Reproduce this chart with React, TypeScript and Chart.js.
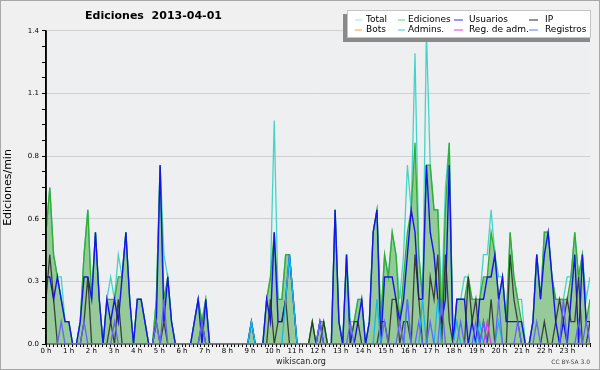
import React, { useEffect, useRef } from 'react';
import Chart from 'chart.js/auto';

const hourLabels = ['0 h','1 h','2 h','3 h','4 h','5 h','6 h','7 h','8 h','9 h','10 h','11 h','12 h','13 h','14 h','15 h','16 h','17 h','18 h','19 h','20 h','21 h','22 h','23 h'];
const yTickValues = [0, 0.28, 0.56, 0.84, 1.12, 1.4];
const yTickLabels = ['0.0', '0.3', '0.6', '0.8', '1.1', '1.4'];
const seriesNames = ['Total', 'Ediciones', 'Usuarios', 'IP', 'Bots', 'Admins.', 'Reg. de adm.', 'Registros'];

// edits per minute, 10-minute bins (144 per day)
const total = [
  0.5,0.7,0.4,0.3,0.3,0.1,0.1,0,0,0.1,0.4,0.6,
  0.2,0.5,0.2,0,0.2,0.3,0.2,0.4,0.3,0.5,0.2,0,
  0.2,0.2,0.1,0,0,0.2,0.8,0.4,0.3,0.1,0,0,
  0,0,0,0.1,0.2,0.1,0.2,0,0,0,0,0,
  0,0,0,0,0,0,0.1,0,0,0,0.2,0.3,
  1.0,0.2,0.2,0.4,0.4,0.2,0,0,0,0,0.1,0,
  0.1,0.1,0,0,0.6,0.1,0,0.4,0.1,0.1,0.2,0.2,
  0,0.1,0.5,0.6,0.1,0.4,0.3,0.5,0.4,0.2,0.4,0.8,
  0.6,1.3,0.4,0.2,1.4,0.8,0.6,0.6,0.2,0.7,0.9,0,
  0.2,0.2,0.3,0.3,0.2,0.2,0.2,0.4,0.4,0.6,0.4,0.3,
  0.3,0.1,0.5,0.3,0.2,0.2,0,0,0.1,0.4,0.2,0.5,
  0.5,0.3,0.2,0.2,0.2,0.3,0.3,0.5,0.3,0.4,0.2,0.3,
];
const ediciones = [
  0.5,0.7,0.4,0.3,0.2,0.1,0.1,0,0,0.1,0.4,0.6,
  0.2,0.5,0.2,0,0.2,0.2,0.2,0.3,0.3,0.5,0.2,0,
  0.2,0.2,0.1,0,0,0.2,0.8,0.2,0.3,0.1,0,0,
  0,0,0,0.1,0.2,0.1,0.2,0,0,0,0,0,
  0,0,0,0,0,0,0.1,0,0,0,0.2,0.3,
  0.5,0.2,0.2,0.4,0.4,0.2,0,0,0,0,0.1,0,
  0.1,0.1,0,0,0.6,0.1,0,0.4,0,0.1,0.2,0.2,
  0,0.1,0.5,0.6,0.1,0.4,0.3,0.5,0.4,0.1,0.3,0.5,
  0.6,0.9,0.4,0.2,0.8,0.8,0.6,0.6,0.1,0.6,0.9,0,
  0.2,0.2,0.2,0.3,0.2,0.2,0.2,0.3,0.3,0.5,0.4,0.2,
  0.3,0.1,0.5,0.3,0.2,0.1,0,0,0.1,0.4,0.2,0.5,
  0.5,0.3,0.2,0.2,0.2,0.2,0.3,0.5,0.3,0.4,0.1,0.2,
];
const usuarios = [
  0.3,0.3,0.2,0.3,0.2,0.1,0.1,0,0,0.1,0.3,0.3,
  0.2,0.5,0.2,0,0.2,0.1,0.2,0.1,0.3,0.5,0.2,0,
  0.2,0.2,0.1,0,0,0.1,0.8,0.1,0.3,0.1,0,0,
  0,0,0,0.1,0.2,0,0.2,0,0,0,0,0,
  0,0,0,0,0,0,0.1,0,0,0,0.2,0.1,
  0.5,0.1,0.1,0.2,0.4,0.2,0,0,0,0,0,0,
  0.1,0,0,0,0.6,0.1,0,0.4,0,0,0.1,0.2,
  0,0.1,0.5,0.6,0,0.3,0.3,0.3,0.2,0.1,0.2,0.4,
  0.6,0.5,0.2,0.2,0.8,0.5,0.4,0.2,0.1,0.2,0.8,0,
  0.2,0.2,0.2,0,0.1,0,0.2,0.2,0.3,0.3,0.4,0.2,
  0.3,0.1,0.1,0.1,0.1,0.1,0,0,0.1,0.4,0.2,0.4,
  0.5,0.3,0.1,0,0.1,0,0.2,0.4,0,0.4,0.1,0.1,
];
const ip = [
  0.2,0.4,0.2,0,0,0,0,0,0,0,0.1,0.3,
  0,0,0,0,0,0.1,0,0.2,0,0,0,0,
  0,0,0,0,0,0.1,0,0.1,0,0,0,0,
  0,0,0,0,0,0.1,0,0,0,0,0,0,
  0,0,0,0,0,0,0,0,0,0,0,0.2,
  0,0.1,0.1,0.2,0,0,0,0,0,0,0.1,0,
  0,0.1,0,0,0,0,0,0,0,0.1,0.1,0,
  0,0,0,0,0.1,0.1,0,0.2,0.2,0,0.1,0.1,
  0,0.4,0.2,0,0,0.3,0.2,0.4,0,0.4,0.1,0,
  0,0,0,0.3,0.1,0.2,0,0.1,0,0.2,0,0,
  0,0,0.4,0.2,0.1,0,0,0,0,0,0,0.1,
  0,0,0.1,0.2,0.1,0.2,0.1,0.1,0.3,0,0,0.1,
];
const bots = [
  0,0,0,0,0,0,0,0,0,0,0,0,
  0,0,0,0,0,0,0,0,0,0,0,0,
  0,0,0,0,0,0,0,0,0,0,0,0,
  0,0,0,0,0,0,0,0,0,0,0,0,
  0,0,0,0,0,0,0,0,0,0,0,0,
  0,0,0,0,0,0,0,0,0,0,0,0,
  0,0,0,0,0,0,0,0,0,0,0,0,
  0,0,0,0,0,0,0,0,0,0,0,0,
  0,0,0,0,0,0,0,0,0,0,0,0,
  0,0,0,0,0,0,0,0,0,0,0,0,
  0,0,0,0,0,0,0,0,0,0,0,0,
  0,0,0,0,0,0,0,0,0,0,0,0,
];
const admins = [
  0,0,0,0,0,0,0,0,0,0,0,0,
  0,0,0,0,0,0,0,0,0,0,0,0,
  0,0,0,0,0,0,0,0,0,0,0,0,
  0,0,0,0,0,0,0,0,0,0,0,0,
  0,0,0,0,0,0,0.1,0,0,0,0,0,
  0,0,0,0.2,0.4,0.2,0,0,0,0,0,0,
  0,0,0,0,0,0,0,0,0,0,0,0,
  0,0,0,0.2,0,0,0,0,0,0,0,0.2,
  0,0,0,0.2,0,0,0,0.2,0,0,0,0,
  0.1,0,0,0,0,0,0.1,0,0,0,0,0.1,
  0,0,0,0,0,0,0,0,0,0,0,0,
  0,0,0,0,0,0,0,0,0,0,0,0,
];
const regAdm = [
  0,0,0,0,0,0,0,0,0,0,0,0,
  0,0,0,0,0,0,0,0,0,0,0,0,
  0,0,0,0,0,0,0,0,0,0,0,0,
  0,0,0,0,0,0,0,0,0,0,0,0,
  0,0,0,0,0,0,0,0,0,0,0,0,
  0,0,0,0,0,0,0,0,0,0,0,0,
  0,0,0,0,0,0,0,0,0,0,0,0,
  0,0,0,0,0,0,0,0,0,0,0,0,
  0,0,0,0,0,0,0,0,0,0,0,0,
  0,0,0,0,0,0,0,0,0.1,0,0,0,
  0,0,0,0,0,0,0,0,0,0,0,0,
  0,0,0,0,0,0,0,0,0,0,0,0,
];
const registros = [
  0,0,0,0,0.1,0,0,0,0,0,0.1,0,
  0,0,0,0,0,0,0.1,0,0,0,0,0,
  0,0,0,0,0,0.1,0,0.2,0,0,0,0,
  0,0,0,0,0,0.1,0,0,0,0,0,0,
  0,0,0,0,0,0,0,0,0,0,0,0,
  0,0,0,0,0,0,0,0,0,0,0,0,
  0.1,0,0,0,0,0,0,0,0.1,0,0,0,
  0,0,0,0,0,0.1,0,0,0,0.1,0,0.2,
  0,0,0.1,0,0,0.1,0,0,0.2,0,0,0,
  0,0.1,0,0,0,0.1,0,0.1,0,0,0,0.2,
  0,0,0,0,0.1,0,0,0,0,0.1,0,0,
  0,0,0,0,0.2,0,0,0,0.1,0,0.1,0,
];

const lineColors = [
  'rgb(70,212,200)', 'rgb(50,175,50)', 'rgb(20,20,235)', 'rgba(40,40,40,0.85)',
  'rgb(255,160,40)', 'rgb(20,185,230)', 'rgb(210,60,220)', 'rgb(100,100,250)',
];
const legendColors = [
  'rgb(145,230,222)', 'rgb(110,205,110)', 'rgb(50,50,250)', 'rgb(40,40,40)',
  'rgb(255,160,40)', 'rgb(50,205,225)', 'rgb(220,60,230)', 'rgb(110,110,250)',
];

const FONT = 'DejaVu Sans';

export default function App() {
  const ref = useRef<HTMLCanvasElement>(null);
  useEffect(() => {
    document.body.style.margin = '0';
    const canvas = ref.current!;
    const series = [total, ediciones, usuarios, ip, bots, admins, regAdm, registros];
    const pts = (arr: number[]) => arr.map((v, i) => ({ x: (i * 24) / (arr.length - 1), y: v }));
    const xTicks = Array.from({ length: 145 }, (_, k) => k / 6);
    const yTicks = Array.from({ length: 21 }, (_, k) => k * 0.07);

    const decor = {
      id: 'decor',
      beforeDraw(chart: any) {
        const { ctx, chartArea: a } = chart;
        ctx.save();
        ctx.fillStyle = '#f0f0f0';
        ctx.fillRect(0, 0, 600, 370);
        ctx.strokeStyle = '#a8a8a8';
        ctx.lineWidth = 1;
        ctx.strokeRect(0.5, 0.5, 599, 369);
        ctx.fillStyle = '#edeff1';
        ctx.fillRect(a.left, a.top, a.right - a.left, a.bottom - a.top);
        ctx.restore();
      },
      afterDraw(chart: any) {
        const { ctx, chartArea: a } = chart;
        ctx.save();
        // y axis line
        ctx.strokeStyle = '#000';
        ctx.lineWidth = 1.5;
        ctx.beginPath();
        ctx.moveTo(a.left, a.top);
        ctx.lineTo(a.left, a.bottom);
        ctx.stroke();
        // title
        ctx.fillStyle = '#000';
        ctx.font = `bold 11px "${FONT}"`;
        ctx.textAlign = 'center';
        ctx.textBaseline = 'middle';
        ctx.fillText('Ediciones  2013-04-01', 153.5, 16);
        // footer
        ctx.font = `8px "${FONT}"`;
        ctx.fillStyle = '#222';
        ctx.fillText('wikiscan.org', 301, 361.5);
        ctx.font = `6px "${FONT}"`;
        ctx.fillStyle = '#444';
        ctx.textAlign = 'right';
        ctx.fillText('CC BY-SA 3.0', 590, 362.5);
        // legend
        ctx.fillStyle = '#8a8a8a';
        ctx.fillRect(343, 14, 247, 28);
        ctx.fillStyle = '#ffffff';
        ctx.fillRect(347, 10, 244, 28);
        ctx.strokeStyle = '#c4c4c4';
        ctx.lineWidth = 1;
        ctx.strokeRect(347.5, 10.5, 243, 27);
        const lineX = [355, 398, 454, 529];
        const lineLen = [7, 7, 9, 9];
        const textX = [366, 408, 469, 545];
        const rowY = [19.5, 29.5];
        ctx.font = `9px "${FONT}"`;
        ctx.textAlign = 'left';
        ctx.textBaseline = 'middle';
        seriesNames.forEach((name, k) => {
          const c = k % 4;
          const r = Math.floor(k / 4);
          ctx.strokeStyle = legendColors[k];
          ctx.lineWidth = 1;
          ctx.beginPath();
          ctx.moveTo(lineX[c], rowY[r] + 0.5);
          ctx.lineTo(lineX[c] + lineLen[c], rowY[r] + 0.5);
          ctx.stroke();
          ctx.fillStyle = '#000';
          ctx.fillText(name, textX[c], rowY[r] + 0.5);
        });
        ctx.restore();
      },
    };

    const chart = new Chart(canvas, {
      type: 'line',
      data: {
        datasets: series.map((arr, k) => ({
          label: seriesNames[k],
          data: pts(arr),
          borderColor: lineColors[k],
          backgroundColor: k === 1 ? 'rgba(30,150,30,0.42)' : lineColors[k],
          fill: k === 1 ? 'origin' : false,
          borderWidth: k === 2 ? 1.4 : 1.3,
          pointRadius: 0,
          tension: 0,
          order: 8 - k,
        })),
      },
      options: {
        animation: false,
        responsive: false,
        devicePixelRatio: 1,
        layout: { padding: { top: 31, right: 10, left: 0, bottom: 0 } },
        plugins: { legend: { display: false }, tooltip: { enabled: false }, title: { display: false } },
        scales: {
          x: {
            type: 'linear',
            min: 0,
            max: 24,
            z: 1,
            afterBuildTicks: (s: any) => { s.ticks = xTicks.map((v) => ({ value: v })); },
            afterFit: (s: any) => { s.height = 26; },
            ticks: {
              autoSkip: false,
              maxRotation: 0,
              minRotation: 0,
              padding: 0,
              color: '#000',
              font: { family: FONT, size: 7 },
              callback: (_v: any, idx: number) => (idx % 6 === 0 && idx / 6 < 24 ? hourLabels[idx / 6] : ''),
            },
            grid: { drawOnChartArea: false, drawTicks: true, tickLength: 3, tickColor: '#000', color: '#000' },
            border: { color: '#000', width: 1.5 },
          },
          y: {
            type: 'linear',
            min: 0,
            max: 1.4,
            afterBuildTicks: (s: any) => { s.ticks = yTicks.map((v) => ({ value: v })); },
            afterFit: (s: any) => { s.width = 46; },
            ticks: {
              autoSkip: false,
              padding: 3,
              color: '#000',
              font: { family: FONT, size: 7 },
              callback: (_v: any, idx: number) => (idx % 4 === 0 ? yTickLabels[idx / 4] : ''),
            },
            grid: {
              color: (c: any) => (c.index % 4 === 0 && c.index > 0 ? '#cfd0d2' : 'rgba(0,0,0,0)'),
              tickColor: '#000',
              tickLength: 4,
              drawTicks: true,
            },
            border: { color: '#000', width: 1.5 },
            title: {
              display: true,
              text: 'Ediciones/min',
              color: '#000',
              font: { family: FONT, size: 11 },
              padding: { top: 2, bottom: 0 },
            },
          },
        },
      },
      plugins: [decor],
    } as any);
    return () => chart.destroy();
  }, []);
  return (
    <div style={{ position: 'absolute', left: 0, top: 0, width: 600, height: 370 }}>
      <canvas ref={ref} width={600} height={370} style={{ display: 'block', width: 600, height: 370 }} />
    </div>
  );
}
